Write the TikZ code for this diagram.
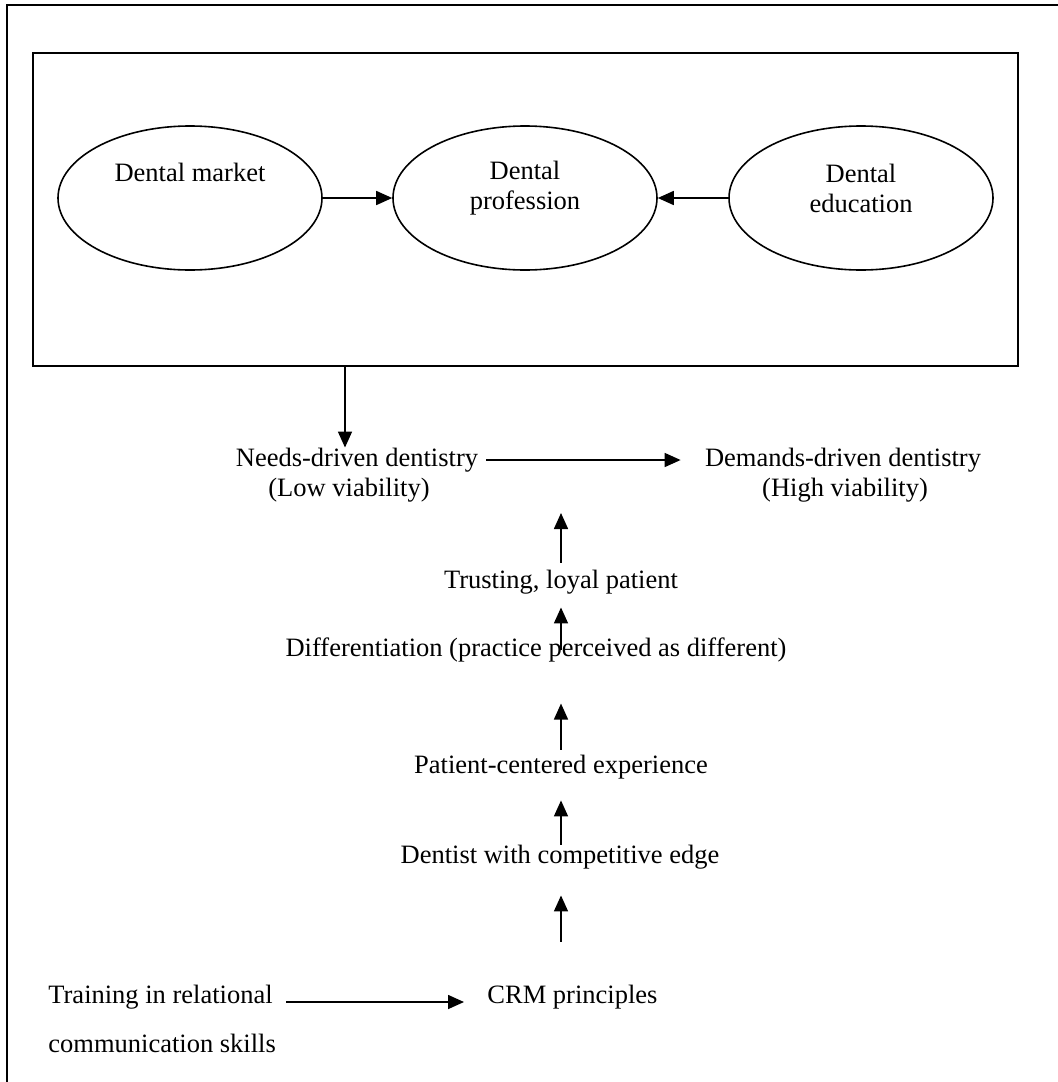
\documentclass[tikz,border=0pt]{standalone}
\usepackage{fontspec}
\setmainfont{Liberation Serif}
\usetikzlibrary{arrows.meta,shapes.geometric}

\tikzset{
  oval/.style={draw, line width=0.8pt, ellipse, minimum width=132pt, minimum height=72pt, inner sep=0pt},
  txt/.style={inner sep=0pt, font=\fontsize{13.25}{15}\selectfont},
  arr/.style={line width=0.8pt, -{Triangle[length=8pt,width=7pt]}},
  frame/.style={draw, line width=1pt}
}

\begin{document}
\begin{tikzpicture}[x=0.5pt,y=-0.5pt]
\useasboundingbox (0,0) rectangle (1058,1082);
\clip (0,0) rectangle (1058,1082);
\draw[frame] (7,5) rectangle (1100,1120);
\node[frame, minimum width=492.5pt, minimum height=156.5pt, inner sep=0pt] (box) at (525.5,209.5) {};

% the three fields
\node[oval] (mkt) at (190,198) {};
\node[oval] (prof) at (525,198) {};
\node[oval] (edu) at (861,198) {};
\node[txt] (mkttx) at (190,172) {Dental market};
\node[txt, align=center] (proftx) at (525,188) {Dental\\profession};
\node[txt, align=center] (edutx) at (861,188) {Dental\\education};
\draw[arr] (mkt) -- (prof);
\draw[arr] (edu) -- (prof);

% the chain below
\node[txt] (needs) at (357,460) {Needs-driven dentistry};
\node[txt] (needslo) at (349,490) {(Low viability)};
\node[txt] (dem) at (843,460) {Demands-driven dentistry};
\node[txt] (demhi) at (845,490) {(High viability)};
\node[txt] (trust) at (561,582) {Trusting, loyal patient};
\node[txt] (diff) at (536,650) {Differentiation (practice perceived as different)};
\node[txt] (pce) at (561,767) {Patient-centered experience};
\node[txt] (dce) at (560,857) {Dentist with competitive edge};
\node[txt, anchor=west] (train) at (48,997) {Training in relational};
\node[txt, anchor=west] (comm) at (48,1043) {communication skills};
\node[txt, anchor=west] (crm) at (487,997) {CRM principles};

\coordinate (drop) at (345,366);
\coordinate (lift) at (561,513);

\draw[arr] (drop) -- (drop |- needs.north);
\draw[arr, shorten <=4pt, shorten >=12pt] (needs.east) -- (dem.west);
\draw[arr, shorten <=3.5pt] (trust.north) -- (lift);
\draw[arr, shorten >=6.5pt] (trust |- diff) -- (trust.south);
\draw[arr, shorten <=2.5pt, shorten >=20.5pt] (pce.north) -- (pce.north |- diff.south);
\draw[arr, shorten >=10.5pt] (pce |- dce.north) -- (pce.south);
\draw[arr, shorten <=21.5pt, shorten >=13pt] (pce |- crm.north) -- (pce |- dce.south);
\draw[arr, shorten <=6.5pt, shorten >=11.5pt] ([yshift=-2.5pt]train.east) -- ([yshift=-2.5pt]crm.west);
\end{tikzpicture}
\end{document}
